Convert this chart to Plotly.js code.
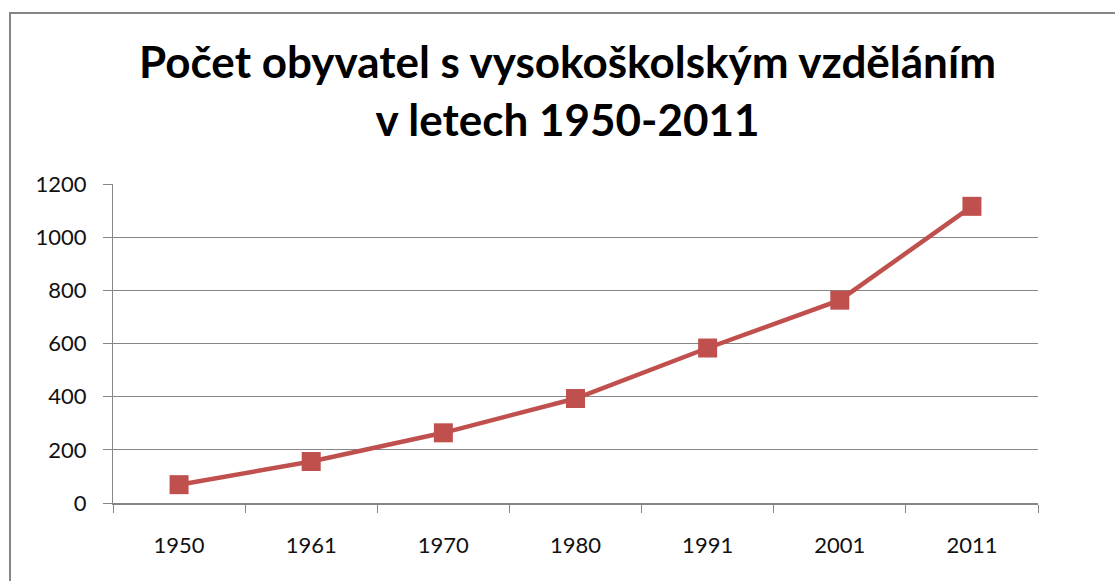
<!DOCTYPE html>
<html>
<head>
<meta charset="utf-8">
<script src="https://cdn.plot.ly/plotly-3.0.1.min.js"></script>
<style>
html,body{margin:0;padding:0;background:#fff;overflow:hidden;}
#chart{position:absolute;left:0;top:0;width:1115px;height:581px;}
#frame{position:absolute;left:9px;top:12px;width:1200px;height:700px;border:2px solid #868686;pointer-events:none;}
</style>
</head>
<body>
<div id="chart"></div>
<div id="frame"></div>
<script>
const years = ['1950','1961','1970','1980','1991','2001','2011'];
const graduates = [69, 156, 264, 393, 583, 763, 1116];
const yTicks = [0, 200, 400, 600, 800, 1000, 1200];
const titleText = 'Počet obyvatel s vysokoškolským vzděláním<br>v letech 1950-2011';

const trace = {
  type: 'scatter',
  mode: 'lines+markers',
  x: years,
  y: graduates,
  line: {color: '#C0504D', width: 4.5},
  marker: {symbol: 'square', size: 19, color: '#C0504D'},
  hoverinfo: 'x+y'
};

const layout = {
  width: 1115, height: 581,
  margin: {l: 113, r: 77, t: 184, b: 78},
  paper_bgcolor: '#fff', plot_bgcolor: '#fff',
  showlegend: false,
  title: {
    text: titleText,
    font: {family: 'Lato, "Open Sans", sans-serif', size: 44, color: '#000', weight: 'bold'},
    x: 0.509, xref: 'container', xanchor: 'center',
    y: 0.865, yref: 'container', yanchor: 'top'
  },
  xaxis: {
    type: 'category',
    range: [-0.5, 6.5],
    showgrid: false,
    showline: true, linecolor: '#868686', linewidth: 2,
    ticks: 'outside', tickson: 'boundaries', ticklen: 8, tickcolor: '#868686', tickwidth: 1,
    tickfont: {family: 'Lato, "Open Sans", sans-serif', size: 22, color: '#111'},
    ticklabelstandoff: 22,
    zeroline: false, fixedrange: true
  },
  yaxis: {
    range: [0, 1200],
    tickvals: yTicks,
    ticktext: yTicks.map(String),
    showgrid: true, gridcolor: '#868686', gridwidth: 1,
    showline: true, linecolor: '#868686', linewidth: 1,
    ticks: 'outside', ticklen: 9, tickcolor: '#868686', tickwidth: 1,
    tickfont: {family: 'Lato, "Open Sans", sans-serif', size: 22, color: '#111'},
    ticklabelstandoff: 12,
    zeroline: false, fixedrange: true
  }
};

Plotly.newPlot('chart', [trace], layout, {staticPlot: true, displayModeBar: false});
</script>
</body>
</html>
